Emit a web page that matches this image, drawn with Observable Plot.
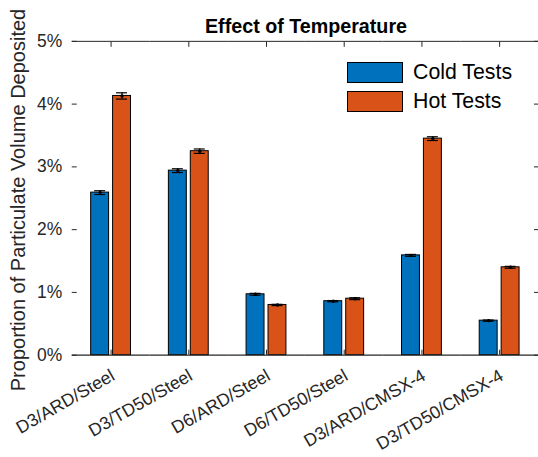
<!DOCTYPE html>
<html>
<head>
<meta charset="utf-8">
<script src="https://cdn.jsdelivr.net/npm/d3@7"></script>
<script src="https://cdn.jsdelivr.net/npm/@observablehq/plot@0.6"></script>
<style>
  html, body { margin: 0; padding: 0; background: #fff; overflow: hidden; }
  #wrap { position: relative; width: 538px; height: 457px; overflow: hidden;
          font-family: "Liberation Sans", Arial, sans-serif; color: #000; }
  #chart { position: absolute; left: 0; top: 0; }
  #title { position: absolute; left: 72px; width: 468px; top: 14px; text-align: center;
           font-weight: bold; font-size: 19.7px; line-height: 24px; color: #000; }
  #ylabel { position: absolute; left: 18px; top: 200px; width: 420px; margin-left: -210px;
            text-align: center; font-size: 20px; line-height: 22px; color: #262626;
            transform: translateY(-50%) rotate(-90deg); }
  #legend { position: absolute; left: 347px; top: 62px; }
  .item { display: flex; align-items: center; height: 21px; margin-bottom: 8px; }
  .sw { width: 54px; height: 19px; border: 1px solid #000; box-sizing: content-box; }
  .lab { margin-left: 10px; font-size: 21.3px; color: #000; white-space: nowrap; }
</style>
</head>
<body>
<div id="wrap">
  <div id="chart"></div>
  <div id="title">Effect of Temperature</div>
  <div id="ylabel">Proportion of Particulate Volume Deposited</div>
  <div id="legend"></div>
</div>
<script>
// Test configurations (material / dust / substrate)
const categories = ["D3/ARD/Steel", "D3/TD50/Steel", "D6/ARD/Steel", "D6/TD50/Steel", "D3/ARD/CMSX-4", "D3/TD50/CMSX-4"];
const series = ["Cold Tests", "Hot Tests"];
const seriesColors = ["#0072BD", "#D95319"];

// Mean deposited volume fraction, in percent
const coldMeans = [2.59, 2.94, 0.97, 0.86, 1.59, 0.55];
const hotMeans = [4.13, 3.25, 0.80, 0.90, 3.45, 1.40];

// Half-width of the error bars, in percent
const coldErr = [0.03, 0.03, 0.015, 0.01, 0.015, 0.01];
const hotErr = [0.05, 0.035, 0.01, 0.015, 0.03, 0.015];

// Y axis ticks and their labels
const yTicks = [0, 1, 2, 3, 4, 5];
const yTickLabels = ["0%", "1%", "2%", "3%", "4%", "5%"];

const rows = categories.flatMap((cat, i) => [
  {cat, series: series[0], value: coldMeans[i], err: coldErr[i]},
  {cat, series: series[1], value: hotMeans[i], err: hotErr[i]}
]);

const axisColor = "#262626";
const tickLabel = (d) => yTickLabels[yTicks.indexOf(d)];

const chart = Plot.plot({
  width: 540,
  height: 457,
  marginLeft: 72,
  marginRight: 0,
  marginTop: 41,
  marginBottom: 101,
  style: {
    fontFamily: "'Liberation Sans', Arial, sans-serif",
    fontSize: "17.5px",
    color: axisColor,
    background: "transparent",
    overflow: "visible"
  },
  fx: {domain: categories, padding: 0, axis: null, label: null},
  x: {domain: series, paddingInner: 0.19, paddingOuter: 0.85, axis: null, label: null},
  y: {domain: [0, 5], axis: null, label: null},
  color: {domain: series, range: seriesColors},
  marks: [
    Plot.barY(rows, {fx: "cat", x: "series", y: "value", fill: "series", stroke: "#000", strokeWidth: 1}),
    // error bars: stem, caps and mean marker
    Plot.ruleX(rows, {fx: "cat", x: "series", y1: (d) => d.value - d.err, y2: (d) => d.value + d.err, stroke: "#000", strokeWidth: 1.2}),
    Plot.tickY(rows, {fx: "cat", x: "series", y: (d) => d.value + d.err, stroke: "#000", strokeWidth: 1.2, insetLeft: 3.5, insetRight: 3.5}),
    Plot.tickY(rows, {fx: "cat", x: "series", y: (d) => d.value - d.err, stroke: "#000", strokeWidth: 1.2, insetLeft: 3.5, insetRight: 3.5}),
    Plot.dot(rows, {fx: "cat", x: "series", y: "value", r: 1.7, fill: "#000", stroke: null}),
    // box lines top and bottom
    Plot.ruleY([0], {stroke: axisColor, strokeWidth: 1.2}),
    Plot.ruleY([5], {stroke: axisColor, strokeWidth: 1}),
    // y axes (inward ticks)
    Plot.axisY({ticks: yTicks, tickFormat: tickLabel, tickSize: -5, tickPadding: 15, line: true, stroke: axisColor, label: null}),
    Plot.axisY({anchor: "right", ticks: yTicks, tickFormat: () => "", tickSize: -5, stroke: axisColor, label: null}),
    // category axis: rotated labels and inward ticks
    Plot.axisFx({anchor: "bottom", tickSize: 0, tickRotate: -30, tickPadding: 19, dx: 2, fontSize: 17.8, label: null, fill: axisColor}),
    Plot.axisFx({anchor: "bottom", tickSize: -5, tickFormat: () => "", stroke: axisColor, label: null}),
    Plot.axisFx({anchor: "top", tickSize: -5, tickFormat: () => "", stroke: axisColor, label: null})
  ]
});
document.getElementById("chart").appendChild(chart);

// legend
const legend = document.getElementById("legend");
series.forEach((s, i) => {
  const item = document.createElement("div");
  item.className = "item";
  const sw = document.createElement("div");
  sw.className = "sw";
  sw.style.background = seriesColors[i];
  const lab = document.createElement("div");
  lab.className = "lab";
  lab.textContent = s;
  item.appendChild(sw);
  item.appendChild(lab);
  legend.appendChild(item);
});
</script>
</body>
</html>
